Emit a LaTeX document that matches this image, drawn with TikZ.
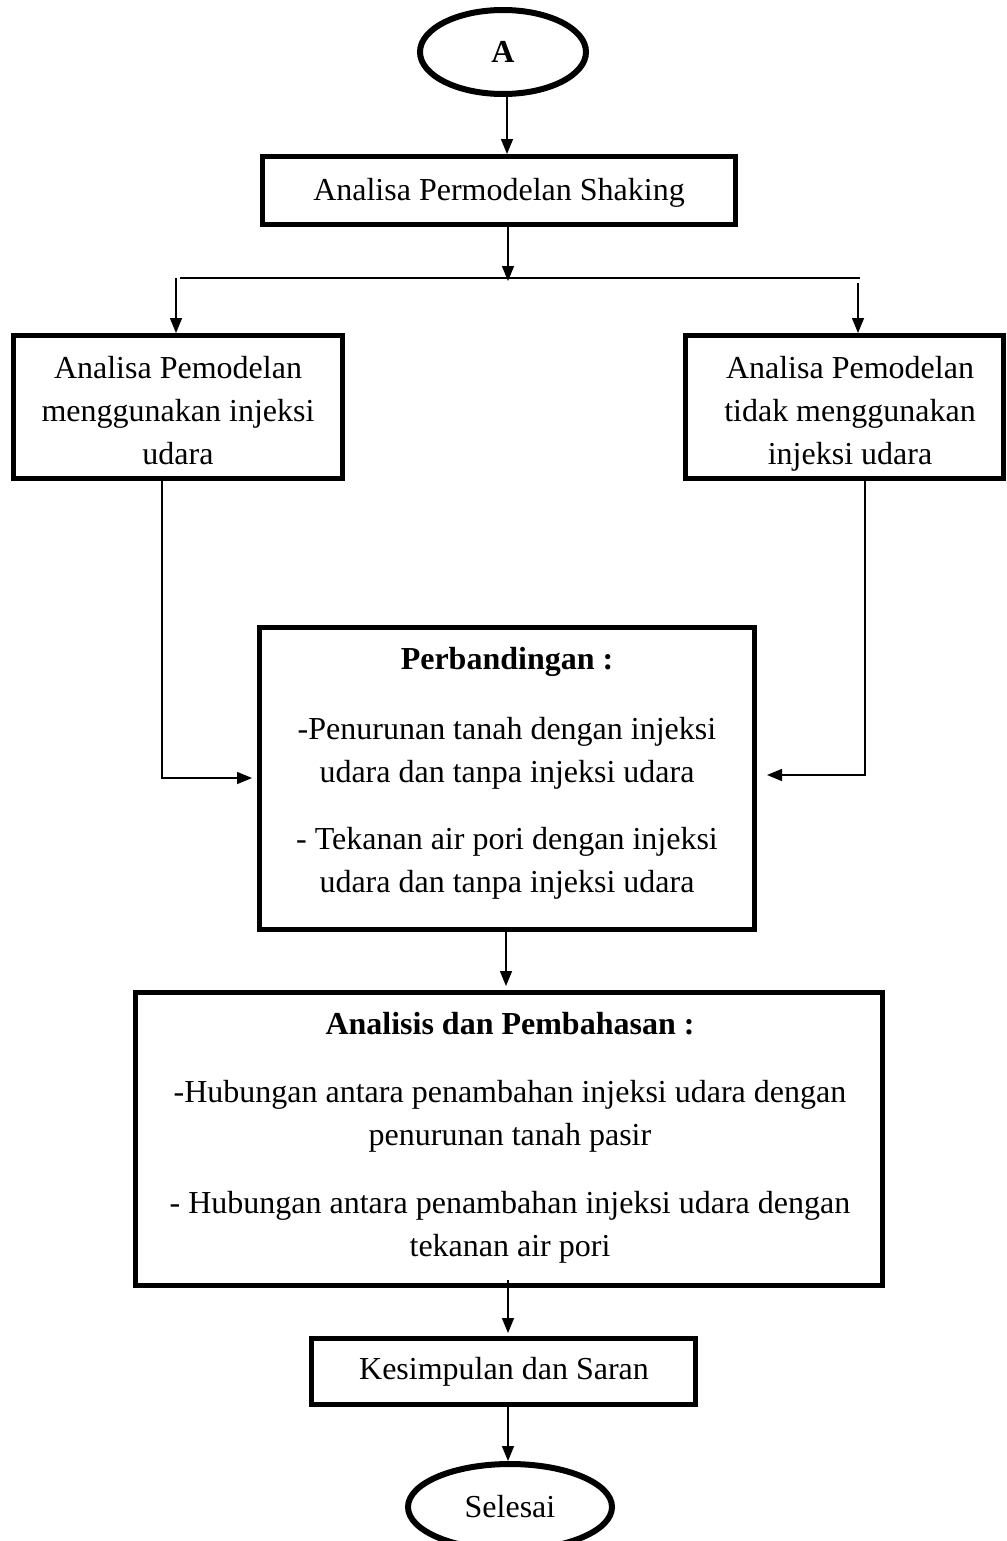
\documentclass[tikz,border=0pt]{standalone}
\usepackage{fontspec}
\setmainfont{Liberation Serif}
\usetikzlibrary{arrows.meta,shapes.geometric}
\begin{document}
\begin{tikzpicture}[x=0.5pt,y=-0.5pt,
  txt/.style={font=\fontsize{16}{21.5}\selectfont,align=center,inner sep=0pt},
  box/.style={txt,draw,line width=2.5pt},
  oval/.style={txt,draw,ellipse,line width=3pt},
  conn/.style={line width=0.75pt,-{Triangle[length=7.5pt,width=6pt]}},
  ln/.style={line width=0.75pt}]
\useasboundingbox (0,0) rectangle (1006,1541);
% shapes
\node[oval,minimum width=83pt,minimum height=42pt] (A) at (503,52) {\textbf{A}};
\node[box,minimum width=236.5pt,minimum height=34pt] (B) at (499,190.5) {};
\node[box,minimum width=164.5pt,minimum height=71.5pt] (L) at (178,407) {};
\node[box,minimum width=159pt,minimum height=71.5pt] (R) at (844.5,407) {};
\node[box,minimum width=247.5pt,minimum height=151pt] (C) at (507,778.5) {};
\node[box,minimum width=373.5pt,minimum height=146.5pt] (D) at (509,1139) {};
\node[box,minimum width=192pt,minimum height=33pt] (E) at (503.5,1371.5) {};
\node[oval,minimum width=102pt,minimum height=43pt] (F) at (510,1507) {Selesai};
% texts
\node[txt] (Bt) at (499,193) {Analisa Permodelan Shaking};
\node[txt] (Lt) at (178,410.5) {Analisa Pemodelan\\menggunakan injeksi\\udara};
\node[txt] (Rt) at (850,414) {Analisa Pemodelan\\tidak menggunakan\\injeksi udara};
\node[txt] (Ct) at (507,773) {\textbf{Perbandingan :}\\[13.5pt]-Penurunan tanah dengan injeksi\\udara dan tanpa injeksi udara\\[12pt]- Tekanan air pori dengan injeksi\\udara dan tanpa injeksi udara};
\node[txt] (Dt) at (510,1137.5) {\textbf{Analisis dan Pembahasan :}\\[12.5pt]-Hubungan antara penambahan injeksi udara dengan\\penurunan tanah pasir\\[12.5pt]- Hubungan antara penambahan injeksi udara dengan\\tekanan air pori};
\node[txt] (Et) at (504,1371.5) {Kesimpulan dan Saran};
% connector helpers
\coordinate (ab) at (507,0);
\coordinate (split) at (508,281);
\coordinate (sl) at (180,278);
\coordinate (sr) at (860,278);
\coordinate (dl) at (176,278);
\coordinate (dr) at (858,283);
\coordinate (lb) at (162,778);
\coordinate (rb) at (865,775);
\coordinate (cd) at (506,0);
% connectors
\draw[conn] (ab |- A.south) -- (ab |- B.north);
\draw[conn] (split |- B.south) -- (split);
\draw[ln] (sl) -- (sr);
\draw[conn] (dl) -- (dl |- L.north);
\draw[conn] (dr) -- (dr |- R.north);
\draw[conn,shorten >=2.5pt] (lb |- L.south) -- (lb) -- (lb -| C.west);
\draw[conn,shorten >=5pt] (rb |- R.south) -- (rb) -- (rb -| C.east);
\draw[conn,shorten >=2pt] (cd |- C.south) -- (cd |- D.north);
\draw[conn,shorten <=-4pt,shorten >=1.5pt] (split |- D.south) -- (split |- E.north);
\draw[conn] (split |- E.south) -- (split |- F.north);
\end{tikzpicture}
\end{document}
